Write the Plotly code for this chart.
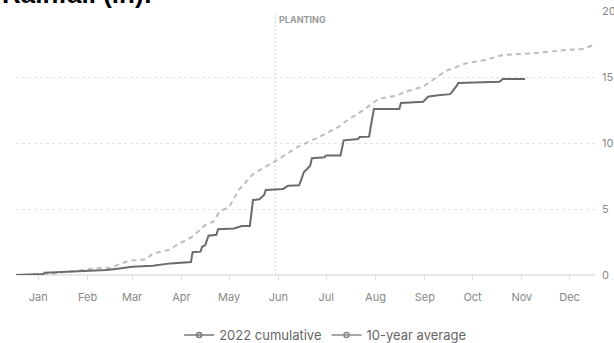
import plotly.graph_objects as go

# ---- data ----
dates_2022 = ["2022-01-01","2022-01-18","2022-01-19","2022-02-19","2022-02-27","2022-03-07","2022-03-15",
              "2022-03-28","2022-04-08","2022-04-21","2022-04-22","2022-04-27","2022-04-28","2022-04-30",
              "2022-05-02","2022-05-07","2022-05-08","2022-05-18","2022-05-21","2022-05-23","2022-05-28",
              "2022-05-30","2022-06-03","2022-06-06","2022-06-07","2022-06-18","2022-06-21","2022-06-28",
              "2022-06-30","2022-07-01","2022-07-03","2022-07-05","2022-07-06","2022-07-14","2022-07-15",
              "2022-07-24","2022-07-26","2022-08-04","2022-08-05","2022-08-11","2022-08-12","2022-08-14",
              "2022-08-30","2022-08-31","2022-09-14","2022-09-17","2022-09-22","2022-10-01","2022-10-05",
              "2022-10-06","2022-11-01","2022-11-03","2022-11-17"]
values_2022 = [0.00,0.08,0.17,0.30,0.38,0.50,0.62,0.70,0.88,0.98,1.72,1.77,2.14,2.27,2.98,3.05,3.47,
               3.53,3.61,3.71,3.72,5.68,5.73,6.06,6.44,6.52,6.77,6.80,7.45,7.80,8.03,8.30,8.84,8.92,
               9.06,9.06,10.20,10.30,10.45,10.48,11.23,12.57,12.58,13.03,13.13,13.50,13.60,13.70,
               14.32,14.55,14.64,14.85,14.85]

dates_avg = ["2022-01-01","2022-01-22","2022-02-03","2022-02-20","2022-03-01","2022-03-13","2022-03-24",
             "2022-03-28","2022-04-07","2022-04-14","2022-04-22","2022-04-30","2022-05-05","2022-05-09",
             "2022-05-15","2022-05-21","2022-05-30","2022-06-14","2022-06-27","2022-07-11","2022-07-23",
             "2022-07-27","2022-08-09","2022-08-17","2022-08-28","2022-09-03","2022-09-14","2022-09-20",
             "2022-09-28","2022-10-11","2022-10-23","2022-11-03","2022-11-22","2022-12-13","2022-12-23",
             "2022-12-30"]
values_avg = [0.00,0.08,0.25,0.50,0.55,1.08,1.19,1.64,1.89,2.40,2.90,3.79,4.04,4.80,5.15,6.44,7.65,
              8.70,9.70,10.48,11.23,11.61,12.63,13.35,13.58,13.89,14.27,14.77,15.45,16.04,16.29,16.67,
              16.80,17.05,17.12,17.42]

month_ticks = ["2022-%02d-15" % m for m in range(1, 13)]
month_labels = ["Jan","Feb","Mar","Apr","May","Jun","Jul","Aug","Sep","Oct","Nov","Dec"]
y_ticks = [0, 5, 10, 15, 20]
planting_date = "2022-06-13"
series_names = ["2022 cumulative", "10-year average"]

FONT = "Inter"
c22 = "#6b6b6b"
cavg = "#bdbdbd"

fig = go.Figure()
fig.add_trace(go.Scatter(x=dates_avg, y=values_avg, mode="lines", showlegend=False,
                         line=dict(color=cavg, width=2, dash="5px,4px"), hoverinfo="skip"))
fig.add_trace(go.Scatter(x=dates_2022, y=values_2022, mode="lines", showlegend=False,
                         line=dict(color=c22, width=2), hoverinfo="skip"))
# legend entries
for name, col in zip(series_names, ["#777777", "#8a8a8a"]):
    fig.add_trace(go.Scatter(x=[None], y=[None], mode="lines+markers", name=name,
                             line=dict(color=col, width=1.5),
                             marker=dict(symbol="circle-open", size=5, color=col, line=dict(width=1.5))))

fig.add_shape(type="line", xref="x", yref="paper", x0=planting_date, x1=planting_date, y0=0, y1=0.99,
              line=dict(color="#cfcfcf", width=1, dash="2px,2px"), layer="below")
fig.add_annotation(x=planting_date, xref="x", y=0.966, yref="paper", text="<b>PLANTING</b>",
                   showarrow=False, xanchor="left", yanchor="middle", xshift=2,
                   font=dict(family=FONT, size=9, color="#9a9a9a"))
fig.add_annotation(x=-0.028, xref="paper", y=1.066, yref="paper", text="<b>Rainfall (in):</b>",
                   showarrow=False, xanchor="left", yanchor="middle",
                   font=dict(family="Liberation Sans", size=26, color="#000000"))

fig.update_layout(
    width=614, height=343,
    margin=dict(l=16, r=19, t=11, b=68, autoexpand=False),
    paper_bgcolor="white", plot_bgcolor="white",
    font=dict(family=FONT, color="#888888", size=11),
    legend=dict(orientation="h", x=0.534, xanchor="center", y=-0.227, yanchor="middle",
                font=dict(family=FONT, size=13, color="#666666"), itemwidth=30,
                bgcolor="rgba(0,0,0,0)"),
    xaxis=dict(type="date", range=["2022-01-01", "2022-12-31"], tickvals=month_ticks,
               ticktext=month_labels, showgrid=False, zeroline=False, showline=False,
               ticks="outside", ticklen=4, tickcolor="#dddddd", tickwidth=1,
               tickfont=dict(family=FONT, size=11, color="#888888"), ticklabelstandoff=8),
    yaxis=dict(range=[0, 20], side="right", tickvals=y_ticks, showgrid=True,
               gridcolor="#e3e3e3", griddash="dot", gridwidth=1,
               zeroline=True, zerolinecolor="#e6e6e6", zerolinewidth=1.5, showline=False,
               ticks="", tickfont=dict(family=FONT, size=11, color="#888888"), ticklabelstandoff=6),
)

fig.write_html("out.html", config={"displayModeBar": False},
               post_script="document.body.style.margin='0';document.body.style.padding='0';"
                           "document.body.style.overflow='hidden';")
